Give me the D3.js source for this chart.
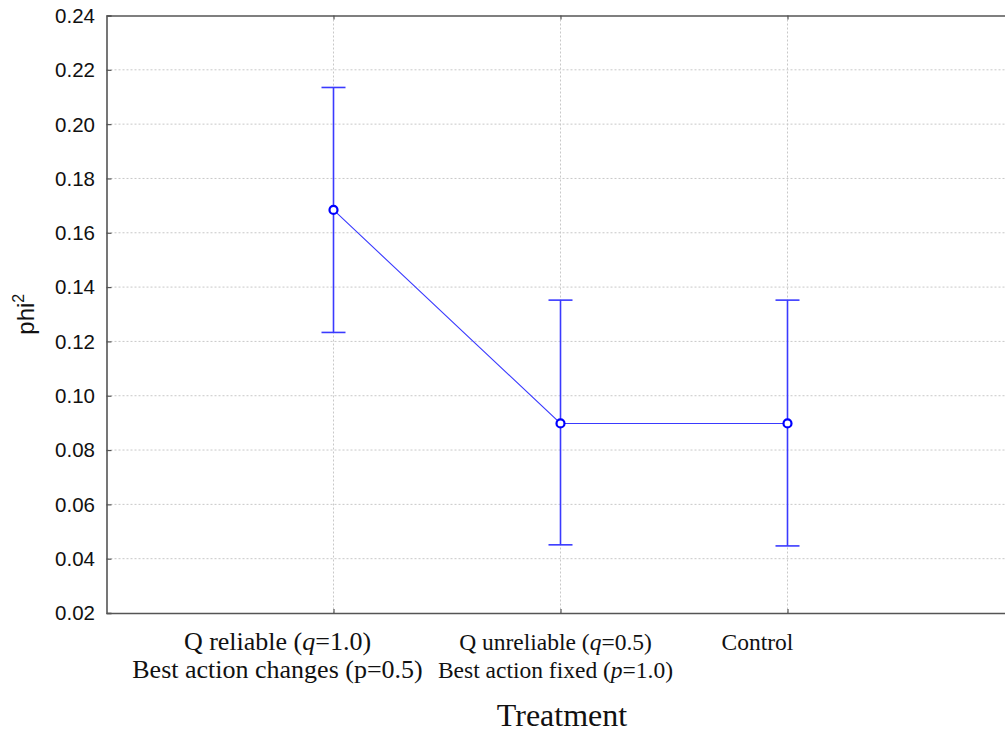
<!DOCTYPE html>
<html>
<head>
<meta charset="utf-8">
<script src="https://cdn.jsdelivr.net/npm/d3@7"></script>
<style>
  html, body { margin: 0; padding: 0; background: #fff; }
  svg { display: block; }
</style>
</head>
<body>
<svg id="chart" width="1005" height="734"></svg>
<script>
// Treatment groups and their phi² estimates with interval bounds
const categories = ["qReliable", "qUnreliable", "control"];
const means = [0.1684, 0.0898, 0.0898];
const lower = [0.1233, 0.0451, 0.0447];
const upper = [0.2135, 0.1352, 0.1352];
const yTicks = [0.02, 0.04, 0.06, 0.08, 0.10, 0.12, 0.14, 0.16, 0.18, 0.20, 0.22, 0.24];

// Category labels, split into lines of runs (italic runs for the symbols)
const labelLines = [
  [
    [["Q reliable (", false], ["q", true], ["=1.0)", false]],
    [["Best action changes (p=0.5)", false]]
  ],
  [
    [["Q unreliable (", false], ["q", true], ["=0.5)", false]],
    [["Best action fixed (", false], ["p", true], ["=1.0)", false]]
  ],
  [
    [["Control", false]]
  ]
];

// Layout
const frame = { left: 106.5, right: 1014.5, top: 15.5, bottom: 613 };
const labelShift = [-56, -5, -30];
const labelSize = [26, 23.5, 23.5];
const blue = "#3a3aff";
const axisColor = "#555";
const gridColor = "#c8c8c8";

const svg = d3.select("#chart");

const x = d3.scalePoint()
  .domain(categories)
  .range([frame.left, frame.right])
  .padding(1);

const y = d3.scaleLinear()
  .domain([0.02, 0.24])
  .range([frame.bottom, frame.top]);

// Horizontal grid
svg.append("g")
  .selectAll("line")
  .data(yTicks.slice(1, -1))
  .join("line")
  .attr("x1", frame.left).attr("x2", frame.right)
  .attr("y1", d => y(d)).attr("y2", d => y(d))
  .attr("stroke", gridColor)
  .attr("stroke-width", 1)
  .attr("stroke-dasharray", "2,2");

// Vertical grid at each category
svg.append("g")
  .selectAll("line")
  .data(categories)
  .join("line")
  .attr("x1", d => x(d)).attr("x2", d => x(d))
  .attr("y1", frame.top).attr("y2", frame.bottom)
  .attr("stroke", gridColor)
  .attr("stroke-width", 1)
  .attr("stroke-dasharray", "2,2");

// Axes (ticks point into the plot)
const yAxis = d3.axisLeft(y).tickValues(yTicks).tickSize(-5).tickFormat("");
svg.append("g")
  .attr("transform", `translate(${frame.left},0)`)
  .call(yAxis)
  .call(g => g.select(".domain").attr("stroke", axisColor).attr("stroke-width", 1.6))
  .call(g => g.selectAll(".tick line").attr("stroke", axisColor).attr("stroke-width", 1.2));

const xAxisBottom = d3.axisBottom(x).tickSize(-4).tickFormat("").tickSizeOuter(0);
svg.append("g")
  .attr("transform", `translate(0,${frame.bottom})`)
  .call(xAxisBottom)
  .call(g => g.select(".domain").attr("stroke", axisColor).attr("stroke-width", 1.6))
  .call(g => g.selectAll(".tick line").attr("stroke", axisColor).attr("stroke-width", 1.2));

const xAxisTop = d3.axisTop(x).tickSize(-4).tickFormat("").tickSizeOuter(0);
svg.append("g")
  .attr("transform", `translate(0,${frame.top})`)
  .call(xAxisTop)
  .call(g => g.select(".domain").attr("stroke", axisColor).attr("stroke-width", 1.6))
  .call(g => g.selectAll(".tick line").attr("stroke", axisColor).attr("stroke-width", 1.2));

// Y tick labels
svg.append("g")
  .selectAll("text")
  .data(yTicks)
  .join("text")
  .attr("x", 95)
  .attr("y", d => y(d))
  .attr("dy", "0.36em")
  .attr("text-anchor", "end")
  .attr("font-family", "Liberation Sans, Arial, sans-serif")
  .attr("font-size", 20.5)
  .attr("fill", "#111")
  .text(d => d.toFixed(2));

// Category labels
const labelG = svg.append("g")
  .attr("font-family", "Liberation Serif, Times New Roman, serif")
  .attr("fill", "#111");
categories.forEach((c, i) => {
  labelLines[i].forEach((runs, li) => {
    const t = labelG.append("text")
      .attr("x", x(c) + labelShift[i])
      .attr("y", 650 + li * 28)
      .attr("font-size", labelSize[i])
      .attr("text-anchor", "middle");
    runs.forEach(([s, it]) => {
      t.append("tspan").attr("font-style", it ? "italic" : "normal").text(s);
    });
  });
});

// Axis titles
svg.append("text")
  .attr("x", 562)
  .attr("y", 726)
  .attr("text-anchor", "middle")
  .attr("font-family", "Liberation Serif, Times New Roman, serif")
  .attr("font-size", 32)
  .attr("fill", "#111")
  .text("Treatment");

const yTitle = svg.append("text")
  .attr("transform", `translate(34,${(frame.top + frame.bottom) / 2}) rotate(-90)`)
  .attr("text-anchor", "middle")
  .attr("font-family", "Liberation Sans, Arial, sans-serif")
  .attr("font-size", 24)
  .attr("fill", "#111");
yTitle.append("tspan").text("phi");
yTitle.append("tspan").attr("font-size", 16).attr("dy", "-0.6em").text("2");

// Data
const rows = categories.map((c, i) => ({ c, m: means[i], lo: lower[i], hi: upper[i] }));

// Connecting line through the means
svg.append("path")
  .datum(rows)
  .attr("fill", "none")
  .attr("stroke", blue)
  .attr("stroke-width", 1.1)
  .attr("d", d3.line().x(d => x(d.c)).y(d => y(d.m)));

// Error bars
const eb = svg.append("g")
  .attr("stroke", blue)
  .attr("stroke-width", 1.6);
eb.selectAll("line.v")
  .data(rows)
  .join("line")
  .attr("class", "v")
  .attr("x1", d => x(d.c)).attr("x2", d => x(d.c))
  .attr("y1", d => y(d.lo)).attr("y2", d => y(d.hi));
eb.selectAll("line.capHi")
  .data(rows)
  .join("line")
  .attr("class", "capHi")
  .attr("x1", d => x(d.c) - 12).attr("x2", d => x(d.c) + 12)
  .attr("y1", d => y(d.hi)).attr("y2", d => y(d.hi));
eb.selectAll("line.capLo")
  .data(rows)
  .join("line")
  .attr("class", "capLo")
  .attr("x1", d => x(d.c) - 12).attr("x2", d => x(d.c) + 12)
  .attr("y1", d => y(d.lo)).attr("y2", d => y(d.lo));

// Mean markers
svg.append("g")
  .selectAll("circle")
  .data(rows)
  .join("circle")
  .attr("cx", d => x(d.c))
  .attr("cy", d => y(d.m))
  .attr("r", 4)
  .attr("fill", "#fff")
  .attr("stroke", "#0000ff")
  .attr("stroke-width", 2.2);
</script>
</body>
</html>
